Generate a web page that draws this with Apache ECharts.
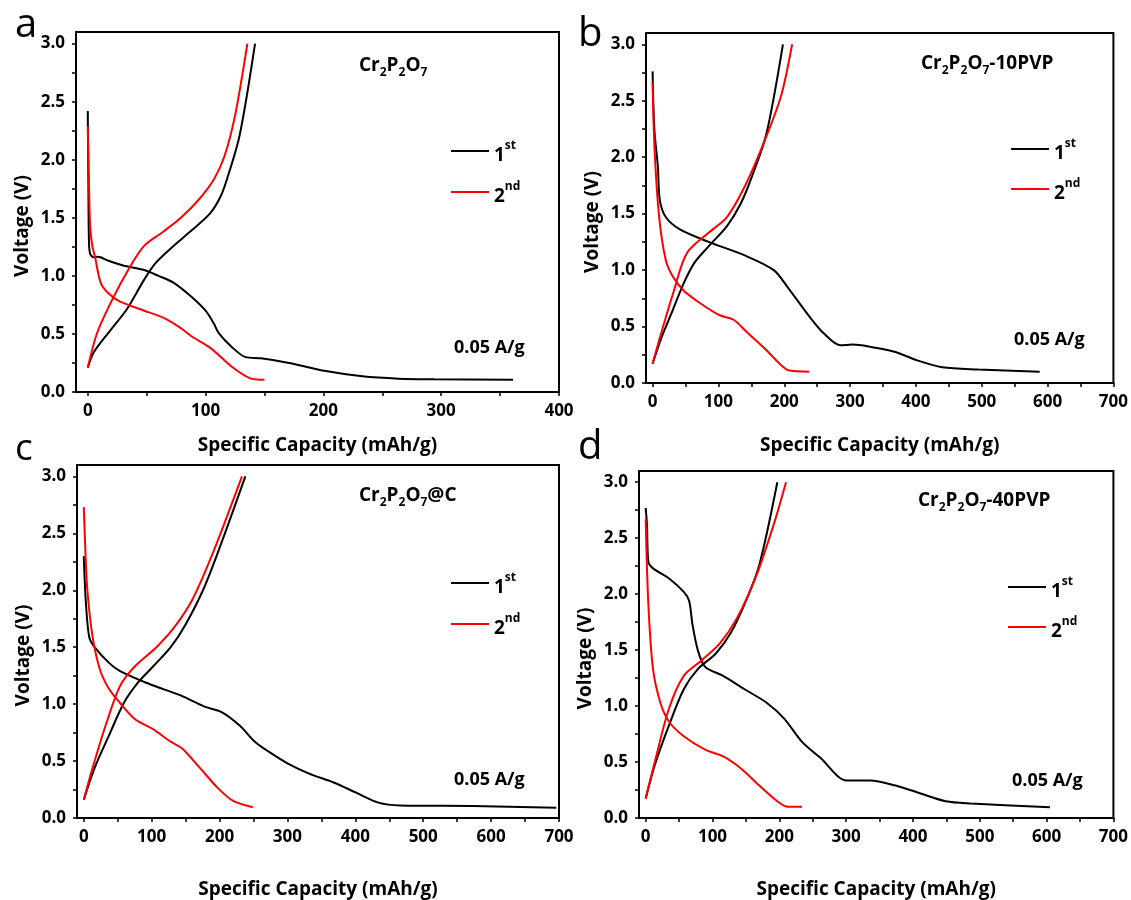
<!DOCTYPE html>
<html><head><meta charset="utf-8">
<script src="https://cdn.jsdelivr.net/npm/echarts@6/dist/echarts.min.js"></script>
<style>html,body{margin:0;padding:0;background:#fff}#c{width:1131px;height:900px}</style>
</head><body><div id="c"></div>
<script>
// ---------- DATA (capacity mAh/g, voltage V) ----------
// Panel a: Cr2P2O7
const a1Dis = [[0,2.42],[0.5,1.8],[1,1.3],[2,1.19],[5,1.16],[8,1.165],[11,1.16],[17.5,1.13],[30,1.09],[48,1.05],[60,1.0],[73,0.94],[88,0.82],[100,0.70],[107,0.59],[111,0.51],[122,0.39],[134,0.30],[147,0.29],[171,0.25],[202,0.18],[233,0.135],[264,0.115],[294,0.11],[361,0.105]];
const a1Chg = [[0,0.21],[5,0.34],[17.5,0.51],[33,0.71],[48,0.97],[57.5,1.11],[73,1.26],[88,1.39],[104,1.54],[113,1.69],[119,1.86],[128,2.17],[134.5,2.52],[142,3.0]];
const a2Dis = [[0,2.29],[0.8,1.9],[2,1.43],[4,1.25],[6,1.17],[11,0.94],[17.5,0.85],[27,0.78],[48,0.70],[64,0.64],[79,0.55],[88,0.48],[104,0.38],[122,0.22],[137.5,0.12],[150,0.105]];
const a2Chg = [[0,0.21],[8,0.51],[21,0.80],[36,1.08],[48,1.26],[64,1.38],[79,1.50],[94.5,1.66],[107,1.83],[116,2.03],[125,2.38],[135.5,3.0]];
// Panel b: Cr2P2O7-10PVP
const b1Dis = [[0,2.76],[1,2.5],[3,2.22],[8,1.92],[11,1.62],[20,1.47],[41.5,1.36],[85,1.25],[140,1.13],[184,1.00],[205,0.85],[238,0.59],[260,0.44],[285,0.335],[304,0.34],[331,0.32],[369,0.275],[402,0.20],[440,0.14],[495,0.12],[588,0.10]];
const b1Chg = [[0,0.17],[14,0.41],[31,0.65],[47,0.88],[63,1.06],[85,1.21],[113,1.39],[134,1.59],[151,1.83],[173,2.21],[198,3.0]];
const b2Dis = [[0,2.66],[3,2.07],[10,1.47],[20,1.09],[31,0.94],[47,0.82],[74,0.70],[102,0.60],[123,0.56],[145,0.44],[173,0.29],[195,0.16],[208,0.11],[238,0.10]];
const b2Chg = [[0,0.17],[11.5,0.41],[31,0.79],[52,1.15],[85,1.33],[113,1.47],[140,1.74],[167,2.10],[195,2.54],[212,3.0]];
// Panel c: Cr2P2O7@C
const c1Dis = [[0,2.3],[3,1.9],[8,1.59],[16,1.50],[37.5,1.36],[53.5,1.29],[91,1.19],[118,1.13],[145,1.07],[177,0.98],[203,0.93],[230,0.81],[252,0.67],[273,0.58],[300,0.48],[332,0.39],[369,0.31],[402,0.22],[434,0.135],[466,0.11],[573,0.105],[696,0.09]];
const c1Chg = [[0,0.16],[16,0.44],[37.5,0.73],[59,1.01],[80,1.19],[102,1.33],[128,1.50],[150,1.70],[177,2.02],[203,2.42],[238,3.0]];
const c2Dis = [[0,2.73],[2,2.4],[5,2.02],[13,1.59],[24,1.30],[37.5,1.13],[53.5,1.01],[75,0.87],[102,0.78],[128,0.67],[145,0.61],[171,0.44],[198,0.26],[220,0.15],[249,0.095]];
const c2Chg = [[0,0.16],[13,0.44],[32,0.81],[53.5,1.16],[75,1.33],[107,1.50],[134,1.68],[161,1.93],[193,2.37],[233,3.0]];
// Panel d: Cr2P2O7-40PVP
const d1Dis = [[0,2.77],[2,2.61],[4,2.29],[11,2.23],[35,2.14],[57,2.02],[65,1.94],[70,1.73],[78,1.50],[89,1.35],[116,1.27],[148,1.15],[181,1.03],[207,0.89],[234,0.68],[261,0.54],[301,0.335],[336,0.335],[374,0.29],[406,0.23],[449,0.15],[487,0.13],[605,0.095]];
const d1Chg = [[0,0.175],[14,0.48],[35,0.83],[57,1.15],[78,1.33],[105,1.47],[127,1.65],[148,1.91],[170,2.26],[197,3.0]];
const d2Dis = [[0,2.67],[4,1.91],[11,1.33],[22,1.03],[35,0.86],[57,0.73],[89,0.61],[116,0.55],[143,0.44],[170,0.29],[197,0.15],[213,0.10],[234,0.10]];
const d2Chg = [[0,0.175],[14,0.51],[35,0.98],[57,1.27],[84,1.41],[111,1.56],[137,1.79],[164,2.14],[191,2.61],[210,3.0]];

// Tick labels
const xLabelsA = [0,100,200,300,400];
const xTicksA = [0,50,100,150,200,250,300,350,400];
const xLabelsB = [0,100,200,300,400,500,600,700];
const xTicksB = [0,50,100,150,200,250,300,350,400,450,500,550,600,650,700];
const yLabels = [0,0.5,1.0,1.5,2.0,2.5,3.0];
const yTicks = [0,0.25,0.5,0.75,1.0,1.25,1.5,1.75,2.0,2.25,2.5,2.75,3.0];

const panelLetters = ['a','b','c','d'];
const sampleNames = [['Cr','2','P','2','O','7',''],['Cr','2','P','2','O','7','-10PVP'],['Cr','2','P','2','O','7','@C'],['Cr','2','P','2','O','7','-40PVP']];
const rateLabel = '0.05 A/g';
const seriesNames = ['1st','2nd'];
const xName = 'Specific Capacity (mAh/g)';
const yName = 'Voltage (V)';
const xMaxes = [400,700,700,700];

const panelData = [
  [[a1Dis,a1Chg],[a2Dis,a2Chg]],
  [[b1Dis,b1Chg],[b2Dis,b2Chg]],
  [[c1Dis,c1Chg],[c2Dis,c2Chg]],
  [[d1Dis,d1Chg],[d2Dis,d2Chg]]
];

// ---------- LAYOUT ----------
const FONT = '"Open Sans", "DejaVu Sans", sans-serif';
const gridPos = [
  {left:76, top:32, width:483, height:360},
  {left:646, top:33, width:470, height:350},
  {left:77, top:465, width:482, height:359},
  {left:639, top:471, width:477, height:354}
];
const xNameGap = [44, 53, 62, 62];
const letterPos = [[15,6,40],[578,15,40],[15,431,37],[578,428,40]];
const samplePos = [[359,56],[921,54],[359,486],[918,491]];
const ratePos = [[454,339],[1014,331],[454,771],[1012,772]];
const legendPos = [[451,140],[1011,138],[451,572],[1008,576]];
const legendGap = [16,15,16,15];
const colors = ['#000000','#ff0000'];

const grid = gridPos.map(g => Object.assign({show:true, borderColor:'#000', borderWidth:2, backgroundColor:'transparent'}, g));
const labelStyle = {color:'#000', fontFamily:FONT, fontWeight:'bold', fontSize:17};

const xAxis = gridPos.map((g,i) => ({
  type:'value', gridIndex:i, min:-10, max:xMaxes[i],
  name:xName, nameLocation:'middle', nameGap:xNameGap[i],
  nameTextStyle:{color:'#000', fontFamily:FONT, fontWeight:'bold', fontSize:19},
  axisLine:{show:true, onZero:false, lineStyle:{color:'#000', width:2}},
  axisTick:{show:true, length:4, lineStyle:{color:'#000', width:1.5}, customValues: i===0 ? xTicksA : xTicksB},
  axisLabel:Object.assign({margin:11, customValues: i===0 ? xLabelsA : xLabelsB}, labelStyle),
  splitLine:{show:false}
}));
const yAxis = gridPos.map((g,i) => ({
  type:'value', gridIndex:i, min:0, max:3.1,
  name:yName, nameLocation:'middle', nameGap:44, nameRotate:90,
  nameTextStyle:{color:'#000', fontFamily:FONT, fontWeight:'bold', fontSize:19, padding:[0,28,0,0]},
  axisLine:{show:true, onZero:false, lineStyle:{color:'#000', width:2}},
  axisTick:{show:true, length:4, lineStyle:{color:'#000', width:1.5}, customValues:yTicks},
  axisLabel:Object.assign({margin:11, customValues:yLabels, formatter:v => v.toFixed(1)}, labelStyle),
  splitLine:{show:false}
}));

const series = [];
panelData.forEach((pd,i) => {
  pd.forEach((cyc,k) => {
    cyc.forEach(seg => {
      series.push({
        type:'line', name:seriesNames[k], xAxisIndex:i, yAxisIndex:i,
        data:seg, symbol:'none', smooth:0.3, clip:true,
        lineStyle:{color:colors[k], width:2}, itemStyle:{color:colors[k]},
        z: 2 + k
      });
    });
  });
});

const title = [];
panelLetters.forEach((l,i) => {
  title.push({text:l, left:letterPos[i][0], top:letterPos[i][1], padding:0,
    textStyle:{fontFamily:FONT, fontWeight:'normal', fontSize:letterPos[i][2], color:'#000'}});
});
sampleNames.forEach((s,i) => {
  const txt = '{m|'+s[0]+'}{s|'+s[1]+'}{m|'+s[2]+'}{s|'+s[3]+'}{m|'+s[4]+'}{s|'+s[5]+'}' + (s[6] ? '{m|'+s[6]+'}' : '');
  title.push({text:txt, left:samplePos[i][0], top:samplePos[i][1], padding:0,
    textStyle:{rich:{
      m:{fontFamily:FONT, fontWeight:'bold', fontSize:19, color:'#000', lineHeight:22, verticalAlign:'top'},
      s:{fontFamily:FONT, fontWeight:'bold', fontSize:12, color:'#000', lineHeight:12, padding:[11,0,0,0], verticalAlign:'top'}
    }}});
});
ratePos.forEach(p => {
  title.push({text:rateLabel, left:p[0], top:p[1], padding:0,
    textStyle:{fontFamily:FONT, fontWeight:'bold', fontSize:18, color:'#000'}});
});

const legend = legendPos.map((p,i) => ({
  left:p[0], top:p[1], orient:'vertical', icon:'rect', itemWidth:38, itemHeight:2, itemGap:legendGap[i],
  data:seriesNames, padding:0,
  formatter: n => n === '1st' ? '{b|1}{s|st}' : '{b|2}{s|nd}',
  textStyle:{rich:{
    b:{fontFamily:FONT, fontWeight:'bold', fontSize:19, color:'#000', lineHeight:22, padding:[6,0,0,0], verticalAlign:'top'},
    s:{fontFamily:FONT, fontWeight:'bold', fontSize:12, color:'#000', lineHeight:12, verticalAlign:'top'}
  }}
}));

const chart = echarts.init(document.getElementById('c'), null, {renderer:'canvas'});
chart.setOption({animation:false, backgroundColor:'#fff', title, legend, grid, xAxis, yAxis, series});
</script></body></html>
